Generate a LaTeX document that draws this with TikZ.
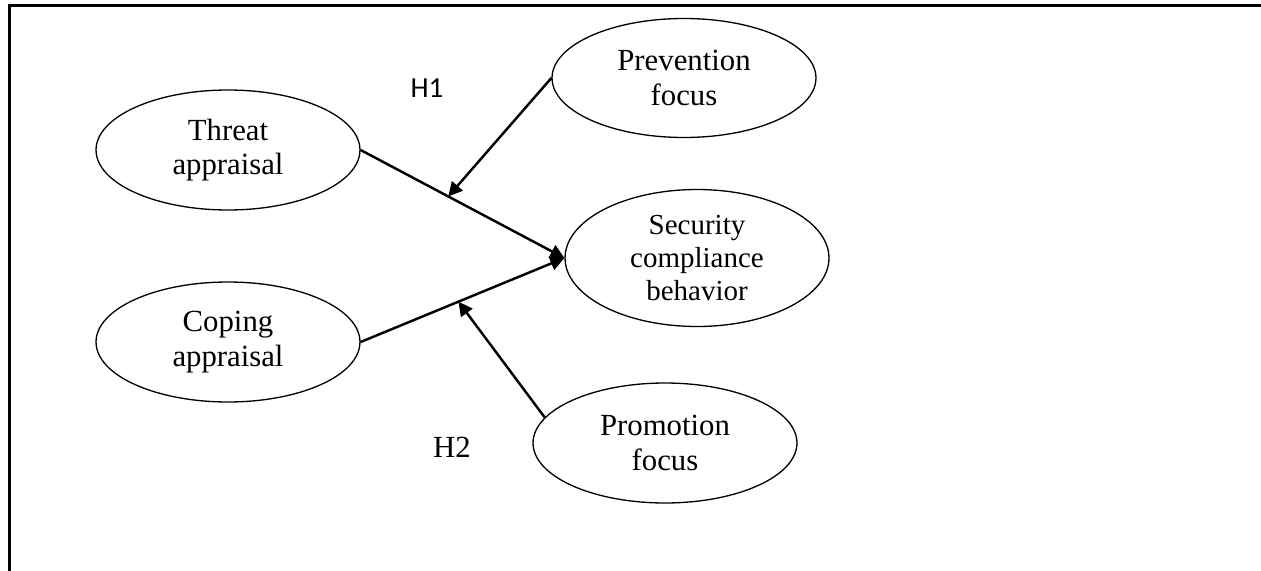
\documentclass[tikz,border=0pt]{standalone}
\usepackage{fontspec}
\setmainfont{Liberation Serif}
\newfontfamily\labelfont{Carlito}
\usetikzlibrary{shapes.geometric,arrows.meta}
\tikzset{
	construct/.style={draw,ellipse,line width=0.75pt,inner sep=0pt,align=center,minimum width=5.28cm,minimum height=2.4cm,font=\fontsize{17.5}{19.8}\selectfont},
	effect/.style={line width=1.4pt,-{Triangle[length=8pt,width=8pt]}}
}
\begin{document}
\begin{tikzpicture}[x=0.02cm,y=-0.02cm]
	\useasboundingbox (0,0) rectangle (1261,571);
	\draw[line width=1.7pt,line join=miter](9.5,571)--(9.5,5.5)--(1261,5.5);
	
	\node[construct] (threat) at (228,150) {Threat\\appraisal};
	\node[construct] (coping) at (228,342) {Coping\\appraisal};
	\node[construct,minimum height=2.38cm] (prevention) at (684,78) {Prevention\\focus};
	\node[construct,minimum height=2.74cm,font=\fontsize{16.5}{19}\selectfont] (scb) at (697,258) {Security\\compliance\\behavior};
	\node[construct] (promotion) at (665,443) {Promotion\\focus};
	
	\draw[effect](threat.east)--coordinate[pos=0.43] (m1) (scb.west);
	\draw[effect](coping.east)--coordinate[pos=0.48] (m2) (scb.west);
	\draw[effect](prevention.west)--(m1);
	\draw[effect](promotion.168)--(m2);
	
	\node[font=\labelfont\fontsize{16.5}{18}\selectfont] (h1) at (427,88) {H1};
	\node[font=\fontsize{17.5}{20}\selectfont] (h2) at (452,447) {H2};
	
\end{tikzpicture}
\end{document}
